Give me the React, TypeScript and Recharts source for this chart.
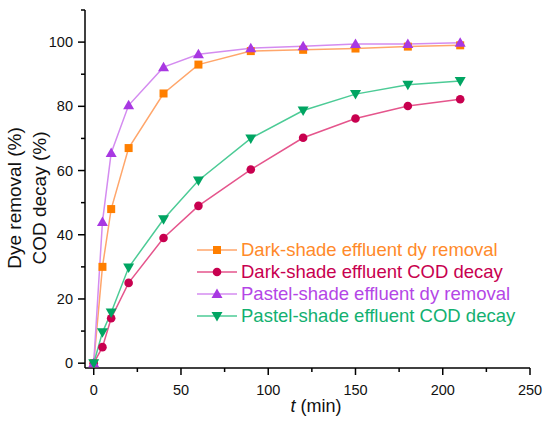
import React from "react"
import { LineChart, Line, XAxis, YAxis, Legend } from "recharts"

// reaction time, min
const times = [0, 5, 10, 20, 40, 60, 90, 120, 150, 180, 210]

const darkDye = [0, 30, 48, 67, 84, 93, 97.2, 97.6, 98, 98.6, 99]
const darkCod = [0, 5, 14, 25, 39, 49, 60.3, 70.2, 76.2, 80.1, 82.2]
const pastelDye = [0, 44, 65.5, 80.3, 92.2, 96.2, 98.1, 98.7, 99.4, 99.4, 99.8]
const pastelCod = [0, 9.6, 15.8, 29.8, 44.8, 56.9, 70, 78.7, 83.8, 86.7, 87.9]

const xTicks = [0, 25, 50, 75, 100, 125, 150, 175, 200, 225, 250]
const xLabels = [0, 50, 100, 150, 200, 250]
const yTicks = [0, 10, 20, 30, 40, 50, 60, 70, 80, 90, 100, 110]
const yLabels = [0, 20, 40, 60, 80, 100]

const data = times.map((t, i) => ({
    t,
    darkDye: darkDye[i],
    darkCod: darkCod[i],
    pastelDye: pastelDye[i],
    pastelCod: pastelCod[i],
}))

const FONT = '"Liberation Sans", Arial, sans-serif'

type Shape = "square" | "circle" | "up" | "down"

const series: { key: string; name: string; shape: Shape; mark: string; line: string; text: string }[] = [
    { key: "darkDye", name: "Dark-shade effluent dy removal", shape: "square", mark: "#ff7f00", line: "#ffa66b", text: "#ff8a2a" },
    { key: "darkCod", name: "Dark-shade effluent COD decay", shape: "circle", mark: "#c8004f", line: "#e5558c", text: "#c8004f" },
    { key: "pastelDye", name: "Pastel-shade effluent dy removal", shape: "up", mark: "#a838e2", line: "#d48cf0", text: "#b446e6" },
    { key: "pastelCod", name: "Pastel-shade effluent COD decay", shape: "down", mark: "#00a562", line: "#4ccb96", text: "#12b070" },
]

function Marker({ cx, cy, shape, fill }: { cx: number; cy: number; shape: Shape; fill: string }) {
    if (shape === "square") return <rect x={cx - 4} y={cy - 4} width={8} height={8} fill={fill} />
    if (shape === "circle") return <circle cx={cx} cy={cy} r={4.3} fill={fill} />
    if (shape === "up")
        return <polygon points={`${cx},${cy - 5.5} ${cx - 5.5},${cy + 4} ${cx + 5.5},${cy + 4}`} fill={fill} />
    return <polygon points={`${cx},${cy + 5.5} ${cx - 5.5},${cy - 4} ${cx + 5.5},${cy - 4}`} fill={fill} />
}

const YTick = (props: any) => {
    const { x, y, payload } = props
    const major = yLabels.includes(payload.value)
    return (
        <g>
            <line x1={x} x2={x - (major ? 7 : 4)} y1={y} y2={y} stroke="#000" strokeWidth={1.5} />
            {major && (
                <text x={x - 12} y={y + 5} textAnchor="end" fontSize={14.5} fontFamily={FONT} fill="#111">
                    {payload.value}
                </text>
            )}
        </g>
    )
}

const XTick = (props: any) => {
    const { x, y, payload } = props
    const major = xLabels.includes(payload.value)
    return (
        <g>
            <line x1={x} x2={x} y1={y} y2={y + (major ? 7 : 4)} stroke="#000" strokeWidth={1.5} />
            {major && (
                <text x={x} y={y + 27} textAnchor="middle" fontSize={14.5} fontFamily={FONT} fill="#111">
                    {payload.value}
                </text>
            )}
        </g>
    )
}

const LegendBox = () => (
    <div style={{ fontFamily: FONT, fontSize: 18.5 }}>
        {series.map((s) => (
            <div key={s.key} style={{ display: "flex", alignItems: "center", height: 22 }}>
                <svg width={46} height={22}>
                    <line x1={2} x2={42} y1={11} y2={11} stroke={s.line} strokeWidth={1.5} />
                    <Marker cx={22} cy={11} shape={s.shape} fill={s.mark} />
                </svg>
                <span style={{ color: s.text, whiteSpace: "nowrap" }}>{s.name}</span>
            </div>
        ))}
    </div>
)

export default function App() {
    return (
        <div style={{ position: "absolute", left: 0, top: 0, width: 550, height: 422, background: "#fff" }}>
            <LineChart width={550} height={422} data={data} margin={{ top: 10, right: 20, left: 0, bottom: 0 }}>
                <XAxis
                    dataKey="t"
                    type="number"
                    domain={[-5, 250]}
                    ticks={xTicks}
                    allowDataOverflow
                    height={54}
                    tickSize={0}
                    tickMargin={0}
                    tick={<XTick />}
                    stroke="#000"
                    strokeWidth={1.5}
                    interval={0}
                />
                <YAxis
                    type="number"
                    domain={[-1.5, 110]}
                    ticks={yTicks}
                    allowDataOverflow
                    width={85}
                    tickSize={0}
                    tickMargin={0}
                    tick={<YTick />}
                    stroke="#000"
                    strokeWidth={1.5}
                    interval={0}
                />
                <Legend
                    layout="vertical"
                    align="center"
                    verticalAlign="middle"
                    content={<LegendBox />}
                    wrapperStyle={{ left: 195, top: 239, width: 340 }}
                />
                {series.map((s) => (
                    <Line
                        key={s.key}
                        dataKey={s.key}
                        name={s.name}
                        stroke={s.line}
                        strokeWidth={1.5}
                        isAnimationActive={false}
                        dot={(p: any) => <Marker key={`${s.key}-${p.index}`} cx={p.cx} cy={p.cy} shape={s.shape} fill={s.mark} />}
                        activeDot={false}
                    />
                ))}
                <text x={316} y={412} textAnchor="middle" fontSize={18} fontFamily={FONT} fill="#111">
                    <tspan fontStyle="italic">t</tspan> (min)
                </text>
                <text transform="translate(21,198) rotate(-90)" textAnchor="middle" fontSize={19} fontFamily={FONT} fill="#111">
                    Dye removal (%)
                </text>
                <text transform="translate(46,198) rotate(-90)" textAnchor="middle" fontSize={19} fontFamily={FONT} fill="#111">
                    COD decay (%)
                </text>
            </LineChart>
        </div>
    )
}
